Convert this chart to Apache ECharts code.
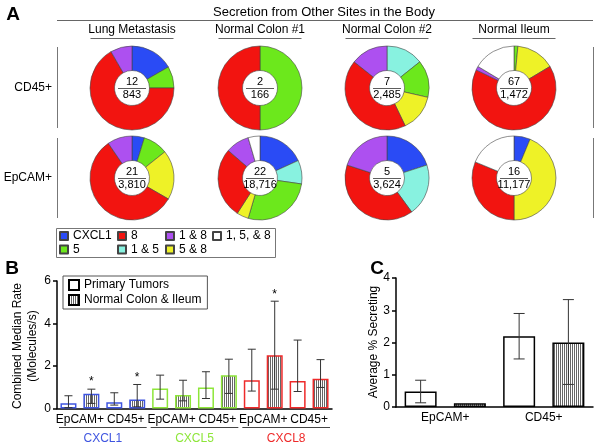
<!DOCTYPE html>
<html><head><meta charset="utf-8">
<script src="https://cdn.jsdelivr.net/npm/echarts@6/dist/echarts.min.js"></script>
<style>html,body{margin:0;padding:0;background:#fff}#c{width:600px;height:446px}</style>
</head><body><div id="c"></div>
<script>
// ---------- Panel A data ----------
const siteNames = ['Lung Metastasis', 'Normal Colon #1', 'Normal Colon #2', 'Normal Ileum'];
const cellRows = ['CD45+', 'EpCAM+'];
const comboNames = ['CXCL1', '1 & 5', '5', '5 & 8', '8', '1 & 8', '1, 5, & 8'];
const cd45Lung    = [2, 0, 1, 0, 8, 1, 0];
const cd45Colon1  = [0, 0, 1, 0, 1, 0, 0];
const cd45Colon2  = [0, 1, 1, 1, 3, 1, 0];
const cd45Ileum   = [0, 0, 1, 10, 44, 1, 11];
const epcamLung   = [1, 0, 2, 4, 12, 2, 0];
const epcamColon1 = [4, 2, 6, 1, 6, 2, 1];
const epcamColon2 = [1, 1, 0, 0, 2, 1, 0];
const epcamIleum  = [1, 0, 0, 7, 5, 0, 3];
const cd45Totals  = [843, 166, 2485, 1472];
const epcamTotals = [3810, 18716, 3624, 11177];
const legendColumns = [['CXCL1', '5'], ['8', '1 & 5'], ['1 & 8', '5 & 8'], ['1, 5, & 8']];

// ---------- Panel B data ----------
const genes = ['CXCL1', 'CXCL5', 'CXCL8'];
const cellTypes = ['EpCAM+', 'CD45+'];
// order: CXCL1 EpCAM+, CXCL1 CD45+, CXCL5 EpCAM+, CXCL5 CD45+, CXCL8 EpCAM+, CXCL8 CD45+
const primaryRate = [0.25, 0.30, 0.94, 0.99, 1.33, 1.30];
const primaryLow  = [0.04, 0.16, 0.44, 0.47, 0.82, 0.80];
const primaryHigh = [0.60, 0.74, 1.57, 1.73, 2.79, 3.22];
const normalRate  = [0.70, 0.42, 0.63, 1.57, 2.51, 1.40];
const normalLow   = [0.24, 0.08, 0.36, 0.71, 0.91, 0.99];
const normalHigh  = [0.91, 1.13, 1.33, 2.32, 5.05, 2.30];
const normalSig   = [1, 1, 0, 0, 1, 0];
const rateTicks = [0, 2, 4, 6];

// ---------- Panel C data ----------
const pctCells = ['EpCAM+', 'CD45+'];
const pctPrimary     = [0.48, 2.19];
const pctPrimaryLow  = [0.13, 1.49];
const pctPrimaryHigh = [0.83, 2.90];
const pctNormal      = [0.12, 2.00];
const pctNormalLow   = [0.12, 0.70];
const pctNormalHigh  = [0.12, 3.33];

// ---------- styles ----------
const FONT = '"Liberation Sans", Arial, Helvetica, sans-serif';
const comboColors = {'CXCL1':'#2a4bf5','1 & 5':'#88f2e0','5':'#6ce81c','5 & 8':'#eef227','8':'#f21410','1 & 8':'#ad50f0','1, 5, & 8':'#ffffff'};
const geneColors = ['#3f55e0', '#8ee63a', '#ee2a2a'];
const colX = [132, 260, 387, 514];
const rowY = [88, 178];

function makeStripe() {
  const c = document.createElement('canvas');
  c.width = 2; c.height = 4;
  const g = c.getContext('2d');
  g.fillStyle = '#fff'; g.fillRect(0, 0, 2, 4);
  g.fillStyle = '#666'; g.fillRect(0, 0, 1, 4);
  return c;
}
const stripe = { image: makeStripe(), repeat: 'repeat' };

const gfx = [];
function txt(x, y, text, o) {
  o = o || {};
  gfx.push({
    type: 'text', x: x, y: y, z: o.z || 10, rotation: o.rotation || 0,
    style: {
      text: text, fill: o.fill || '#000',
      font: (o.weight || 'normal') + ' ' + (o.size || 12) + 'px ' + FONT,
      textAlign: o.align || 'center', align: o.align || 'center',
      textVerticalAlign: 'middle', verticalAlign: 'middle'
    }
  });
}
function line(x1, y1, x2, y2, stroke, w, z) {
  gfx.push({ type: 'line', z: z || 10, shape: { x1, y1, x2, y2 }, style: { stroke: stroke || '#555', lineWidth: w || 1 } });
}

const series = [];
// ---------- Panel A ----------
const donutRows = [[cd45Lung, cd45Colon1, cd45Colon2, cd45Ileum], [epcamLung, epcamColon1, epcamColon2, epcamIleum]];
const donutTotals = [cd45Totals, epcamTotals];
donutRows.forEach((row, r) => {
  row.forEach((counts, c) => {
    series.push({
      type: 'pie', center: [colX[c], rowY[r]], radius: [17.5, 42],
      startAngle: 90, clockwise: true, silent: true,
      label: { show: false }, labelLine: { show: false },
      emphasis: { disabled: true },
      itemStyle: { borderColor: '#444', borderWidth: 0.6 },
      data: comboNames.map((n, i) => ({ name: n, value: counts[i], itemStyle: { color: comboColors[n] } }))
        .filter(d => d.value > 0)
    });
    const num = counts.reduce((a, b) => a + b, 0);
    txt(colX[c], rowY[r] - 6, String(num), { size: 11 });
    txt(colX[c], rowY[r] + 6.5, donutTotals[r][c].toLocaleString('en-US'), { size: 11 });
    line(colX[c] - 14, rowY[r] + 0.5, colX[c] + 14, rowY[r] + 0.5, '#333', 0.8, 11);
  });
});
txt(324, 12, 'Secretion from Other Sites in the Body', { size: 13 });
line(57, 20.5, 593, 20.5, '#666', 1);
siteNames.forEach((s, c) => {
  txt(colX[c], 30, s, { size: 12 });
  line(colX[c] - 41.5, 38.5, colX[c] + 41.5, 38.5, '#666', 1);
});
cellRows.forEach((s, r) => txt(52, rowY[r], s, { size: 12, align: 'right' }));
line(57.5, 47, 57.5, 128, '#777', 1); line(57.5, 138, 57.5, 218, '#777', 1);
line(593.5, 47, 593.5, 128, '#777', 1); line(593.5, 138, 593.5, 218, '#777', 1);
gfx.push({ type: 'rect', z: 1, shape: { x: 56.5, y: 228.5, width: 219, height: 29 }, style: { fill: 'rgba(0,0,0,0)', stroke: '#777', lineWidth: 1 } });
txt(13, 15, 'A', { size: 19, weight: 'bold' });
txt(12, 269, 'B', { size: 19, weight: 'bold' });
txt(377, 269, 'C', { size: 19, weight: 'bold' });
txt(18, 346, 'Combined Median Rate', { size: 12, rotation: Math.PI / 2 });
txt(33, 346, '(Molecules/s)', { size: 12, rotation: Math.PI / 2 });
txt(374, 342, 'Average % Secreting', { size: 12, rotation: Math.PI / 2 });

const legendLefts = [59, 117, 165, 212];
const legends = legendColumns.map((cols, i) => ({
  data: cols, orient: 'vertical', left: legendLefts[i], top: 229.5, padding: 0,
  itemWidth: 8, itemHeight: 8, itemGap: 0.5, selectedMode: false,
  icon: 'rect', textStyle: { fontSize: 12, fontFamily: FONT, color: '#000', lineHeight: 13 }
}));
legends.push({
  data: ['Primary Tumors', 'Normal Colon & Ileum'], orient: 'vertical', left: 63, top: 276,
  padding: [2, 6, 2, 5], itemWidth: 10, itemHeight: 10, itemGap: 1, selectedMode: false,
  icon: 'rect', borderColor: '#555', borderWidth: 1,
  textStyle: { fontSize: 12, fontFamily: FONT, color: '#000', lineHeight: 14 }
});

// ---------- Panel B ----------
const bKeys = [];
genes.forEach(g => cellTypes.forEach(c => ['primary', 'normal'].forEach(s => bKeys.push(g + ' ' + c + ' ' + s))));
const pairKeys = [];
genes.forEach(g => cellTypes.forEach(c => pairKeys.push(c)));
const primaryBarData = bKeys.map((k, i) => i % 2 === 0 ? { value: primaryRate[i >> 1], itemStyle: { borderColor: geneColors[Math.floor(i / 4)] } } : '-');
const normalBarData  = bKeys.map((k, i) => i % 2 === 1 ? { value: normalRate[i >> 1], itemStyle: { borderColor: geneColors[Math.floor(i / 4)] } } : '-');
const errB = [];
for (let k = 0; k < 6; k++) {
  errB.push([bKeys[2 * k], primaryLow[k], primaryHigh[k], 0]);
  errB.push([bKeys[2 * k + 1], normalLow[k], normalHigh[k], normalSig[k]]);
}
// ---------- Panel C ----------
const cKeys = [];
pctCells.forEach(c => ['primary', 'normal'].forEach(s => cKeys.push(c + ' ' + s)));
const pctPrimaryData = cKeys.map((k, i) => i % 2 === 0 ? pctPrimary[i >> 1] : '-');
const pctNormalData  = cKeys.map((k, i) => i % 2 === 1 ? pctNormal[i >> 1] : '-');
const errC = [];
pctCells.forEach((c, i) => {
  if (pctPrimaryHigh[i] > pctPrimaryLow[i]) errC.push([cKeys[2 * i], pctPrimaryLow[i], pctPrimaryHigh[i], 0]);
  if (pctNormalHigh[i] > pctNormalLow[i]) errC.push([cKeys[2 * i + 1], pctNormalLow[i], pctNormalHigh[i], 0]);
});

function errRender(capW) {
  return function (params, api) {
    const x = api.value(0), lo = api.value(1), hi = api.value(2), sig = api.value(3);
    const a = api.coord([x, lo]), b = api.coord([x, hi]);
    const st = { stroke: '#333', lineWidth: 1 };
    const ch = [
      { type: 'line', shape: { x1: a[0], y1: a[1], x2: b[0], y2: b[1] }, style: st },
      { type: 'line', shape: { x1: b[0] - capW / 2, y1: b[1], x2: b[0] + capW / 2, y2: b[1] }, style: st },
      { type: 'line', shape: { x1: a[0] - capW / 2, y1: a[1], x2: a[0] + capW / 2, y2: a[1] }, style: st }
    ];
    if (sig) ch.push({ type: 'text', style: { text: '*', x: b[0], y: b[1] - 7, fill: '#000', font: '12px ' + FONT, align: 'center', textAlign: 'center', verticalAlign: 'middle', textVerticalAlign: 'middle' } });
    return { type: 'group', children: ch };
  };
}

const axisLineBlack = { show: true, lineStyle: { color: '#000', width: 1.5 } };
const lab = { fontSize: 12, fontFamily: FONT, color: '#000' };

series.push(
  { name: 'Primary Tumors', type: 'bar', xAxisIndex: 0, yAxisIndex: 0, barWidth: 16, barGap: '-100%', silent: true,
    itemStyle: { color: '#fff', borderColor: '#000', borderWidth: 1.5 }, data: primaryBarData },
  { name: 'Normal Colon & Ileum', type: 'bar', xAxisIndex: 0, yAxisIndex: 0, barWidth: 16, barGap: '-100%', silent: true,
    itemStyle: { color: stripe, borderColor: '#000', borderWidth: 1.5 }, data: normalBarData },
  { type: 'custom', xAxisIndex: 0, yAxisIndex: 0, z: 5, silent: true, renderItem: errRender(8),
    encode: { x: 0, y: [1, 2] }, data: errB },
  { name: 'Primary Tumors', type: 'bar', xAxisIndex: 3, yAxisIndex: 1, barWidth: 32, barGap: '-100%', silent: true,
    itemStyle: { color: '#fff', borderColor: '#000', borderWidth: 1.5 }, data: pctPrimaryData },
  { name: 'Normal Colon & Ileum', type: 'bar', xAxisIndex: 3, yAxisIndex: 1, barWidth: 32, barGap: '-100%', silent: true,
    itemStyle: { color: stripe, borderColor: '#000', borderWidth: 1.5 }, data: pctNormalData },
  { type: 'custom', xAxisIndex: 3, yAxisIndex: 1, z: 5, silent: true, renderItem: errRender(11),
    encode: { x: 0, y: [1, 2] }, data: errC }
);

const option = {
  animation: false,
  backgroundColor: '#fff',
  textStyle: { fontFamily: FONT },
  legend: legends,
  grid: [
    { left: 57, top: 281, width: 275, height: 127.5, outerBoundsMode: 'none', containLabel: false },
    { left: 396, top: 278, width: 197, height: 129, outerBoundsMode: 'none', containLabel: false }
  ],
  xAxis: [
    { type: 'category', gridIndex: 0, data: bKeys, axisLine: axisLineBlack, axisTick: { show: false }, axisLabel: { show: false }, splitLine: { show: false } },
    { type: 'category', gridIndex: 0, position: 'bottom', offset: 0, data: pairKeys.map((k, i) => 'p' + i),
      axisLine: { show: false }, axisTick: { show: false },
      axisLabel: Object.assign({ interval: 0, margin: 5, formatter: (v, i) => pairKeys[i] }, lab) },
    { type: 'category', gridIndex: 0, position: 'bottom', offset: 19, data: genes,
      axisLine: { show: false }, axisTick: { show: false },
      axisLabel: { interval: 0, margin: 5, fontSize: 12, fontFamily: FONT, color: (v, i) => geneColors[genes.indexOf(v)] } },
    { type: 'category', gridIndex: 1, data: cKeys, axisLine: axisLineBlack, axisTick: { show: false }, axisLabel: { show: false } },
    { type: 'category', gridIndex: 1, position: 'bottom', offset: 0, data: pctCells,
      axisLine: { show: false }, axisTick: { show: false },
      axisLabel: Object.assign({ interval: 0, margin: 5 }, lab) }
  ],
  yAxis: [
    { type: 'value', gridIndex: 0, min: rateTicks[0], max: rateTicks[rateTicks.length - 1], interval: 2,
      axisLine: axisLineBlack, axisTick: { show: true, length: 4, lineStyle: { color: '#000', width: 1.5 } },
      axisLabel: Object.assign({ margin: 6 }, lab), splitLine: { show: false } },
    { type: 'value', gridIndex: 1, min: 0, max: 4, interval: 1,
      axisLine: axisLineBlack, axisTick: { show: true, length: 4, lineStyle: { color: '#000', width: 1.5 } },
      axisLabel: Object.assign({ margin: 6 }, lab), splitLine: { show: false } }
  ],
  series: series,
  graphic: { elements: gfx }
};

const chart = echarts.init(document.getElementById('c'), null, { renderer: 'canvas' });
chart.setOption(option);

// gene group underlines under panel B, positioned from the category scale
const c0 = chart.convertToPixel({ xAxisIndex: 0 }, bKeys[0]);
const c1 = chart.convertToPixel({ xAxisIndex: 0 }, bKeys[1]);
const band = c1 - c0;
genes.forEach((g, gi) => {
  const xs = chart.convertToPixel({ xAxisIndex: 0 }, bKeys[gi * 4]) - band / 2 + 2;
  const xe = chart.convertToPixel({ xAxisIndex: 0 }, bKeys[gi * 4 + 3]) + band / 2 - 2;
  line(xs, 427.5, xe, 427.5, '#444', 1);
});
chart.setOption({ graphic: { elements: gfx } });
</script>
</body></html>
